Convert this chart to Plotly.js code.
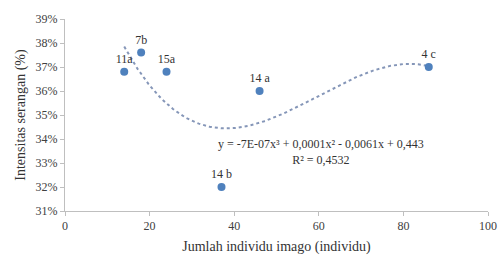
<!DOCTYPE html>
<html><head><meta charset="utf-8">
<script src="https://cdn.plot.ly/plotly-3.0.1.min.js"></script>
<style>html,body{margin:0;padding:0;background:#fff}#chart{width:500px;height:256px}</style>
</head><body><div id="chart"></div>
<script>
const xVals = [14, 18, 24, 37, 46, 86];
const yVals = [0.368, 0.376, 0.368, 0.320, 0.360, 0.370];
const pointLabels = ['11a', '7b', '15a', '14 b', '14 a', '4 c'];
const yTickVals = [0.31, 0.32, 0.33, 0.34, 0.35, 0.36, 0.37, 0.38, 0.39];
const xTickVals = [0, 20, 40, 60, 80, 100];
const equationText = 'y = -7E-07x³ + 0,0001x² - 0,0061x + 0,443';
const r2Text = 'R² = 0,4532';

// cubic least-squares trendline fitted to the data (as the spreadsheet does)
function polyfit(xs, ys, deg) {
  const n = deg + 1;
  const A = Array.from({length: n}, () => new Array(n + 1).fill(0));
  for (let i = 0; i < xs.length; i++) {
    for (let r = 0; r < n; r++) {
      for (let c = 0; c < n; c++) A[r][c] += Math.pow(xs[i], r + c);
      A[r][n] += ys[i] * Math.pow(xs[i], r);
    }
  }
  for (let k = 0; k < n; k++) {
    let p = k;
    for (let r = k + 1; r < n; r++) if (Math.abs(A[r][k]) > Math.abs(A[p][k])) p = r;
    [A[k], A[p]] = [A[p], A[k]];
    for (let r = 0; r < n; r++) {
      if (r === k) continue;
      const f = A[r][k] / A[k][k];
      for (let c = k; c <= n; c++) A[r][c] -= f * A[k][c];
    }
  }
  return A.map((row, i) => row[n] / row[i]);
}
const coef = polyfit(xVals, yVals, 3);
const xMin = Math.min(...xVals), xMax = Math.max(...xVals);
const trendX = [], trendY = [];
for (let i = 0; i <= 200; i++) {
  const x = xMin + (xMax - xMin) * i / 200;
  trendX.push(x);
  trendY.push(coef.reduce((s, c, j) => s + c * Math.pow(x, j), 0));
}

const serif = 'Liberation Serif, Times New Roman, serif';
const data = [
  {x: trendX, y: trendY, mode: 'lines', type: 'scatter', hoverinfo: 'skip',
   line: {color: '#8596b8', width: 2, dash: 'dot'}},
  {x: xVals, y: yVals, mode: 'markers+text', type: 'scatter', text: pointLabels,
   textposition: 'top center', textfont: {family: serif, size: 12, color: '#333'},
   marker: {color: '#4f81bd', size: 8}}
];
const layout = {
  width: 500, height: 256, showlegend: false,
  margin: {l: 65, r: 12, t: 19, b: 45},
  paper_bgcolor: '#fff', plot_bgcolor: '#fff',
  font: {family: serif, size: 12, color: '#404040'},
  xaxis: {range: [0, 100], tickvals: xTickVals, showgrid: false, zeroline: false,
          showline: true, linecolor: '#bfbfbf', linewidth: 1, ticks: 'outside',
          ticklen: 4, tickcolor: '#bfbfbf', tickfont: {family: serif, size: 12, color: '#404040'},
          title: {text: 'Jumlah individu imago (individu)', font: {family: serif, size: 14, color: '#333'}, standoff: 8}},
  yaxis: {range: [0.31, 0.39], tickvals: yTickVals, tickformat: '.0%', showgrid: false, zeroline: false,
          showline: true, linecolor: '#bfbfbf', linewidth: 1, ticks: 'outside',
          ticklen: 4, tickcolor: '#bfbfbf', tickfont: {family: serif, size: 12, color: '#404040'},
          title: {text: 'Intensitas serangan (%)', font: {family: serif, size: 14, color: '#333'}, standoff: 6}},
  annotations: [
    {x: 60.5, y: 0.3346, xref: 'x', yref: 'y', text: equationText + '<br>' + r2Text,
     showarrow: false, align: 'center', borderpad: 0,
     font: {family: serif, size: 12, color: '#333'}}
  ]
};
Plotly.newPlot('chart', data, layout, {displayModeBar: false, staticPlot: true});
</script></body></html>
